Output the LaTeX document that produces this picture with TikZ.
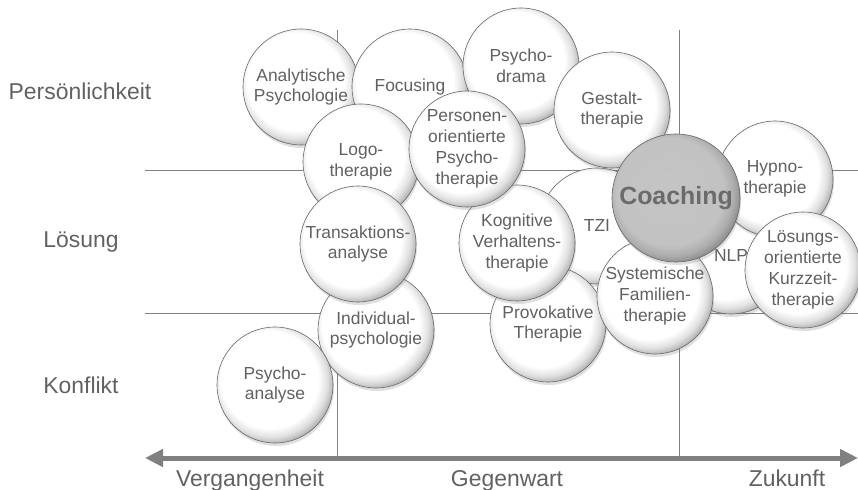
\documentclass[tikz,border=0pt]{standalone}
\usepackage{fontspec}
\setmainfont{Liberation Sans}
\usetikzlibrary{arrows.meta,shadows}

\pgfdeclareradialshading{bubble}{\pgfpoint{-4bp}{4bp}}{color(0bp)=(white); color(21bp)=(white); color(24.5bp)=(black!12); color(28bp)=(black!35); color(31bp)=(black!52); color(50bp)=(black!52)}
\pgfdeclareradialshading{coachbubble}{\pgfpoint{-4bp}{4bp}}{color(0bp)=(black!23); color(21bp)=(black!24); color(24.5bp)=(black!32); color(28bp)=(black!48); color(31bp)=(black!62); color(50bp)=(black!62)}

\tikzset{
  therapy/.style={circle, draw=black!60, line width=0.6bp, shading=bubble, minimum size=116bp, inner sep=-8bp, align=center, text=black!62, font=\fontsize{17.5}{21}\selectfont, drop shadow={shadow xshift=1bp, shadow yshift=-3bp, opacity=0.25}},
  coach/.style={therapy, shading=coachbubble, minimum size=128bp, font=\bfseries\fontsize{25}{30}\selectfont, text=black!58},
  axislabel/.style={anchor=base, text=black!62, font=\fontsize{23}{27}\selectfont},
  gridline/.style={draw=black!50, line width=1bp},
  timeaxis/.style={draw=black!50, line width=5bp, {Triangle[length=18bp,width=17bp]}-{Triangle[length=18bp,width=17bp]}}
}

\begin{document}
\begin{tikzpicture}[x=1bp, y=-1bp]
		%%%%% START %%%%%
		\useasboundingbox (0, 0) rectangle (858, 490);
		
		\draw[gridline] (145, 171) -- (858, 171);
		\draw[gridline] (145, 313) -- (858, 313);
		\draw[gridline] (337, 30) -- (337, 458);
		\draw[gridline] (679, 30) -- (679, 458);
		
		\coordinate (past) at (145, 458);
		\coordinate (future) at (858, 458);
		\draw[timeaxis] (past) -- (future);
		
		\node[axislabel] (personality) at (80, 100) {Persönlichkeit};
		\node[axislabel] (solution) at (81, 248) {Lösung};
		\node[axislabel] (conflict) at (81, 393) {Konflikt};
		\node[axislabel] (pastlabel) at (250, 486) {Vergangenheit};
		\node[axislabel] (presentlabel) at (507, 486) {Gegenwart};
		\node[axislabel] (futurelabel) at (787, 486) {Zukunft};
		
		% back row
		\node[therapy] (tzi) at (597, 226) {TZI};
		\node[therapy] (nlp) at (731, 256) {NLP};
		
		\node[therapy] (analytisch) at (301, 87) {Analytische\\Psychologie};
		\node[therapy] (focusing) at (410, 87) {Focusing};
		\node[therapy] (psychodrama) at (521, 66) {Psycho-\\drama};
		\node[therapy] (gestalt) at (612, 110) {Gestalt-\\therapie};
		\node[therapy] (logo) at (361, 162) {Logo-\\therapie};
		
		\node[therapy] (provokativ) at (548, 324) {Provokative\\Therapie};
		\node[therapy] (individual) at (376, 330) {Individual-\\psychologie};
		\node[therapy] (kognitiv) at (517, 243) {Kognitive\\Verhaltens-\\therapie};
		\node[therapy] (personen) at (467, 149) {Personen-\\orientierte\\Psycho-\\therapie};
		\node[therapy] (transaktion) at (358, 244) {Transaktions-\\analyse};
		\node[therapy] (psychoanalyse) at (275, 385) {Psycho-\\analyse};
		
		% front row
		\node[therapy] (hypno) at (775, 179) {Hypno-\\therapie};
		\node[therapy] (systemisch) at (655, 296) {Systemische\\Familien-\\therapie};
		\node[coach] (coaching) at (676, 198) {Coaching};
		\node[therapy] (loesung) at (803, 270) {Lösungs-\\orientierte\\Kurzzeit-\\therapie};
		
		%%%%% END %%%%%
\end{tikzpicture}
\end{document}
